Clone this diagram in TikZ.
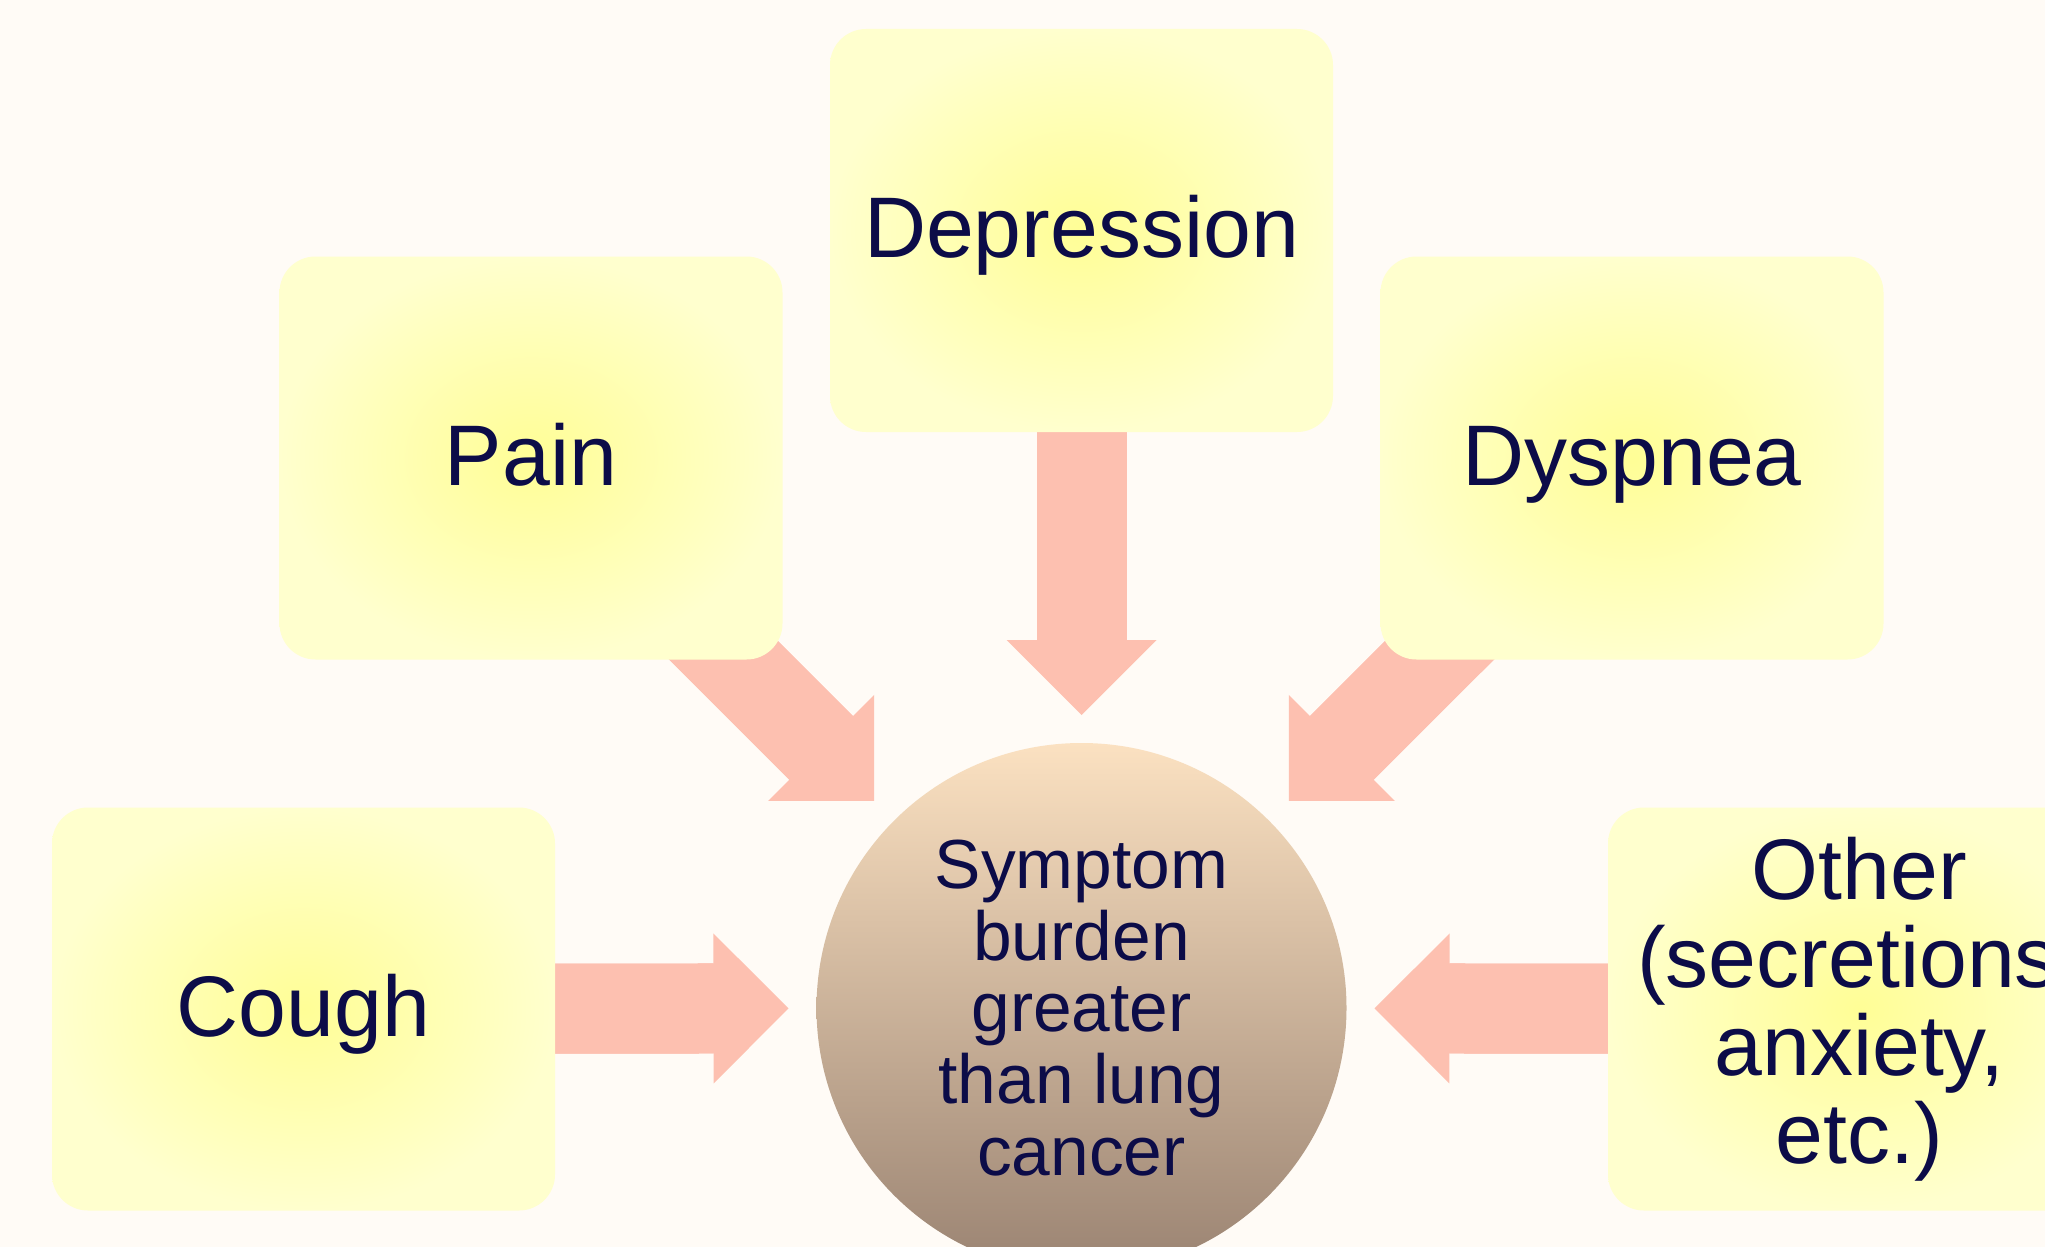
\documentclass[tikz,border=0pt]{standalone}
\usepackage{fontspec}
\setmainfont{Liberation Sans}
\usetikzlibrary{arrows.meta,calc}
\definecolor{bgcol}{RGB}{255,251,246}
\definecolor{yin}{RGB}{255,254,150}
\definecolor{yout}{RGB}{255,255,206}
\definecolor{arrowcol}{RGB}{253,192,176}
\definecolor{ctop}{RGB}{251,225,193}
\definecolor{cbot}{RGB}{154,131,114}
\definecolor{inkcol}{RGB}{12,12,72}
\pgfdeclarelayer{bglayer}
\pgfdeclarelayer{arrowlayer}
\pgfsetlayers{bglayer,arrowlayer,main}
\tikzset{
  symbox/.style={rectangle, rounded corners=36pt, minimum width=503pt, minimum height=403pt,
    inner color=yin, outer color=yout, text=inkcol, font=\fontsize{86}{88}\selectfont,
    inner sep=0pt, align=center},
  oneline/.style={text height=62pt, text depth=7.2pt},
  corebox/.style={circle, minimum size=530pt, inner sep=0pt, top color=ctop, bottom color=cbot,
    text=inkcol, align=center, font=\fontsize{69.5}{71.7}\selectfont},
  fatarrow/.style={draw=arrowcol, line width=90pt, line cap=butt,
    preaction={draw=arrowcol, line width=90pt, line cap=butt, shorten >=50pt, -},
    -{Triangle[length=75pt,width=150pt,line width=0pt,fill=arrowcol]}},
}
\begin{document}
\begin{tikzpicture}[x=1pt,y=-1pt]
\useasboundingbox (0,0) rectangle (2045,1247);
\begin{pgfonlayer}{bglayer}
\fill[bgcol] (0,0) rectangle (2045,1247);
\end{pgfonlayer}

\node[corebox] (core) at (1081.5,1008) {Symptom\\burden\\greater\\than lung\\cancer};

\node[symbox, oneline] (dep)   at (1081.5,230.5) {Depression};
\node[symbox, oneline] (pain)  at (531,458)      {Pain};
\node[symbox, oneline] (dysp)  at (1632,458)     {Dyspnea};
\node[symbox, oneline] (cough) at (303.5,1009)   {Cough};
\node[symbox] (other) at (1859.5,1009) {Other\\(secretions,\\anxiety,\\etc.)};

\coordinate (tdep)   at ($(core.center)!293pt!(dep.center)$);
\coordinate (tpain)  at ($(core.center)!293pt!(pain.center)$);
\coordinate (tdysp)  at ($(core.center)!293pt!(dysp.center)$);
\coordinate (tcough) at ($(core.center)!293pt!(cough.center)$);
\coordinate (tother) at ($(core.center)!293pt!(other.center)$);

\begin{pgfonlayer}{arrowlayer}
\draw[fatarrow] (dep.center) -- (tdep);
\draw[fatarrow] (pain.center) -- (tpain);
\draw[fatarrow] (dysp.center) -- (tdysp);
\draw[fatarrow] (cough.center) -- (tcough);
\draw[fatarrow] (other.center) -- (tother);
\end{pgfonlayer}
\end{tikzpicture}
\end{document}
